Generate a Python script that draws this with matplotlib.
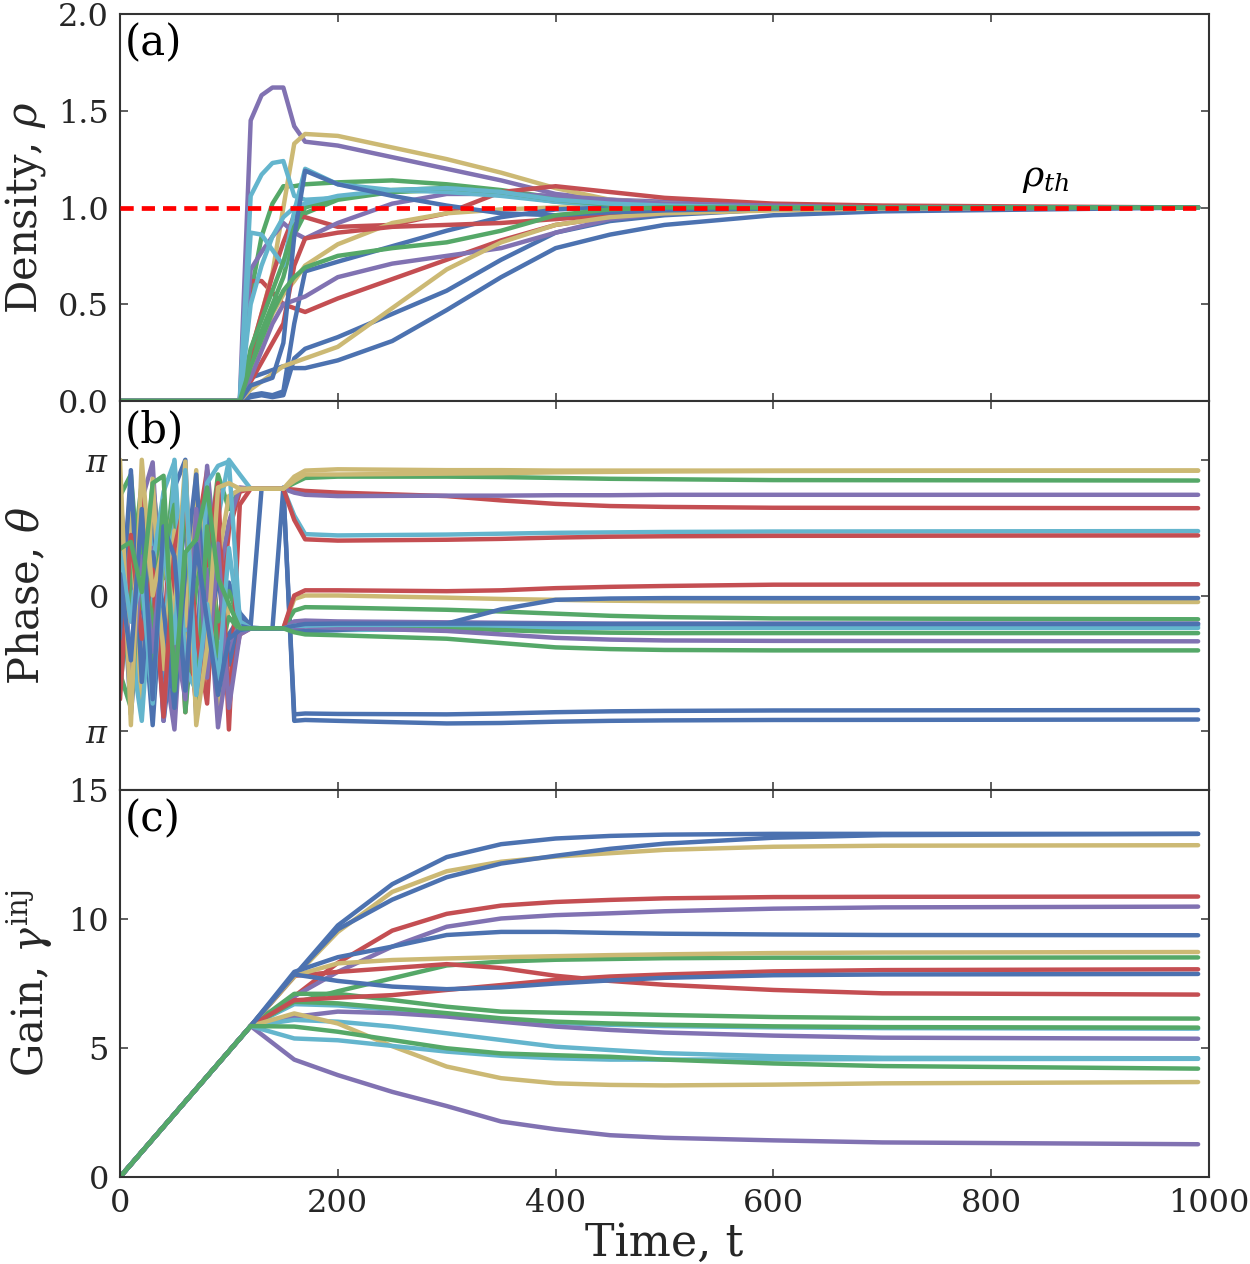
import numpy as np
import matplotlib
matplotlib.use("Agg")
import matplotlib.pyplot as plt

plt.rcParams["font.family"] = ["DejaVu Serif"]
plt.rcParams["mathtext.fontset"] = "dejavuserif"

palette = ["#4C72B0", "#55A868", "#C44E52", "#8172B2", "#CCB974", "#64B5CD"]

# ---------------- time grids ----------------
t_density = [0, 110, 120, 130, 140, 150, 160, 170, 200, 250, 300, 350, 400, 450, 500, 600, 700, 990]
t_phase = [0, 10, 20, 30, 40, 50, 60, 70, 80, 90, 100, 110,
           120, 130, 140, 150, 160, 170, 200, 300, 350, 400, 450, 500, 600, 990]
t_gain = [0, 120, 160, 200, 250, 300, 350, 400, 450, 500, 600, 700, 990]

# ---------------- (a) density, per colour group ----------------
rho_blue = [
    [0, 0, 0.12, 0.14, 0.16, 0.18, 0.17, 0.17, 0.21, 0.31, 0.47, 0.64, 0.79, 0.86, 0.91, 0.96, 0.98, 1.0],
    [0, 0, 0.02, 0.03, 0.02, 0.03, 0.22, 0.27, 0.33, 0.45, 0.57, 0.73, 0.87, 0.93, 0.96, 0.99, 1.0, 1.0],
    [0, 0, 0.03, 0.04, 0.03, 0.05, 0.40, 0.67, 0.72, 0.80, 0.88, 0.95, 0.99, 1.0, 1.0, 1.0, 1.0, 1.0],
    [0, 0, 0.08, 0.10, 0.12, 0.30, 0.85, 1.19, 1.12, 1.06, 1.01, 0.97, 0.96, 0.975, 0.985, 0.995, 1.0, 1.0],
]
rho_green = [
    [0, 0, 0.55, 0.85, 1.02, 1.11, 1.11, 1.12, 1.13, 1.14, 1.12, 1.09, 1.05, 1.02, 1.01, 1.0, 1.0, 1.0],
    [0, 0, 0.22, 0.36, 0.50, 0.64, 0.86, 0.97, 1.04, 1.08, 1.09, 1.07, 1.03, 1.01, 1.005, 1.0, 1.0, 1.0],
    [0, 0, 0.27, 0.42, 0.57, 0.72, 0.90, 1.00, 1.05, 1.09, 1.10, 1.08, 1.04, 1.015, 1.005, 1.0, 1.0, 1.0],
    [0, 0, 0.18, 0.32, 0.46, 0.57, 0.64, 0.69, 0.75, 0.79, 0.82, 0.88, 0.96, 0.99, 1.0, 1.0, 1.0, 1.0],
]
rho_red = [
    [0, 0, 0.62, 0.62, 0.56, 0.50, 0.48, 0.46, 0.53, 0.63, 0.73, 0.83, 0.91, 0.95, 0.97, 0.99, 1.0, 1.0],
    [0, 0, 0.25, 0.45, 0.65, 0.82, 0.96, 0.95, 0.90, 0.91, 0.97, 1.08, 1.11, 1.08, 1.05, 1.02, 1.01, 1.0],
    [0, 0, 0.10, 0.20, 0.30, 0.40, 0.70, 0.84, 0.87, 0.90, 0.91, 0.92, 0.94, 0.96, 0.98, 0.99, 1.0, 1.0],
]
rho_purple = [
    [0, 0, 1.45, 1.58, 1.62, 1.62, 1.42, 1.34, 1.32, 1.26, 1.20, 1.14, 1.07, 1.04, 1.03, 1.01, 1.0, 1.0],
    [0, 0, 0.68, 0.77, 0.85, 0.92, 0.87, 0.84, 0.92, 1.02, 1.07, 1.07, 1.06, 1.04, 1.02, 1.01, 1.0, 1.0],
    [0, 0, 0.12, 0.26, 0.40, 0.50, 0.52, 0.54, 0.64, 0.71, 0.75, 0.79, 0.87, 0.94, 0.97, 0.99, 1.0, 1.0],
]
rho_yellow = [
    [0, 0, 0.25, 0.45, 0.66, 1.00, 1.33, 1.38, 1.37, 1.31, 1.25, 1.18, 1.10, 1.04, 1.02, 1.005, 1.0, 1.0],
    [0, 0, 0.15, 0.30, 0.45, 0.55, 0.62, 0.70, 0.81, 0.92, 0.97, 0.99, 1.0, 1.0, 1.0, 1.0, 1.0, 1.0],
    [0, 0, 0.06, 0.10, 0.14, 0.18, 0.20, 0.22, 0.28, 0.48, 0.68, 0.82, 0.91, 0.95, 0.97, 0.985, 0.995, 1.0],
]
rho_cyan = [
    [0, 0, 1.06, 1.17, 1.23, 1.24, 1.06, 1.04, 1.05, 1.08, 1.10, 1.08, 1.04, 1.02, 1.01, 1.0, 1.0, 1.0],
    [0, 0, 0.87, 0.86, 0.78, 0.70, 0.98, 1.20, 1.12, 1.09, 1.08, 1.06, 1.03, 1.01, 1.0, 1.0, 1.0, 1.0],
    [0, 0, 0.50, 0.70, 0.85, 0.95, 1.00, 1.02, 1.06, 1.09, 1.10, 1.08, 1.04, 1.02, 1.01, 1.0, 1.0, 1.0],
]
rho_threshold = 1.0

# ---------------- (b) phase, per colour group ----------------
theta_blue = [
    [1.3, -2.75, 0.2, -3.0, 0.8, 2.5, 3.14, -2.8, -0.5, -1.9, 0.3, -0.4,
     -0.7, 2.47, 2.47, 2.47, -2.75, -2.73, -2.74, -2.75, -2.73, -2.7, -2.68, -2.67, -2.66, -2.65],
    [0.2, 1.5, -1.2, 2.4, -2.9, -0.8, 1.9, -1.5, 2.2, -1.8, -0.9, -0.5,
     -0.74, -0.76, -0.76, 2.5, -2.9, -2.88, -2.9, -2.96, -2.95, -2.92, -2.9, -2.89, -2.88, -2.87],
    [-1.0, 2.9, -2.0, 1.0, -0.3, -2.6, 0.6, 2.8, -1.2, 0.5, -1.6, -0.7,
     -0.76, -0.76, -0.76, -0.76, -0.8, -0.82, -0.8, -0.65, -0.32, -0.1, -0.07, -0.06, -0.06, -0.06],
    [0.5, -1.5, 2.0, -2.4, 1.6, 0.9, -2.2, 1.2, -0.6, -2.3, -1.0, -0.8,
     -0.76, -0.76, -0.76, -0.76, -0.7, -0.66, -0.65, -0.65, -0.65, -0.66, -0.66, -0.66, -0.66, -0.66],
]
theta_green = [
    [2.3, 2.8, -0.3, 2.6, 0.4, 2.9, -1.2, 2.5, 0.7, 2.8, 2.0, 2.45,
     2.47, 2.47, 2.47, 2.47, 2.6, 2.72, 2.75, 2.75, 2.74, 2.72, 2.7, 2.69, 2.67, 2.66],
    [-2.2, 0.4, 2.6, -1.6, 0.9, 2.1, -2.7, 0.2, 1.4, -0.6, 0.1, -0.6,
     -0.76, -0.76, -0.76, -0.76, -0.35, -0.27, -0.28, -0.33, -0.37, -0.42, -0.47, -0.5, -0.53, -0.55],
    [-1.8, -2.6, 1.2, -0.8, 2.2, -1.5, 2.4, -2.5, 1.6, -1.4, -0.5, -0.8,
     -0.76, -0.76, -0.76, -0.76, -0.72, -0.7, -0.7, -0.75, -0.8, -0.84, -0.86, -0.87, -0.87, -0.87],
    [1.08, 1.24, 0.08, 2.6, 2.77, -2.2, 1.0, 1.3, 2.5, 0.4, -0.2, -0.76,
     -0.76, -0.76, -0.76, -0.76, -0.85, -0.9, -0.92, -1.0, -1.1, -1.2, -1.24, -1.26, -1.27, -1.27],
]
theta_red = [
    [-1.6, 0.5, -2.2, 1.8, -0.9, 2.6, -2.7, 1.3, 2.9, -1.0, 1.5, 2.4,
     2.47, 2.47, 2.47, 2.47, 2.45, 2.42, 2.38, 2.3, 2.2, 2.12, 2.07, 2.05, 2.03, 2.02],
    [0.8, -2.0, 2.5, -0.4, 1.9, -1.8, 0.2, -2.6, 0.9, 2.6, -3.1, 2.1,
     2.47, 2.47, 2.47, 2.47, 1.75, 1.3, 1.27, 1.29, 1.31, 1.34, 1.36, 1.37, 1.38, 1.39],
    [-2.4, 1.4, -1.0, 0.6, -2.8, 1.1, 2.2, -0.9, -2.5, 1.7, -2.2, -0.9,
     -0.76, -0.76, -0.76, -0.76, 0.0, 0.12, 0.12, 0.1, 0.12, 0.17, 0.2, 0.22, 0.25, 0.26],
]
theta_purple = [
    [1.8, -0.6, 2.2, 3.08, -1.4, -3.1, 0.9, -1.6, 3.0, 0.3, 1.7, 2.5,
     2.47, 2.47, 2.47, 2.47, 2.38, 2.33, 2.3, 2.31, 2.31, 2.32, 2.32, 2.33, 2.33, 2.33],
    [-0.7, 2.6, -1.8, 1.1, -2.9, 0.4, 2.1, -2.6, 0.6, -3.05, -1.3, -0.6,
     -0.76, -0.76, -0.76, -0.76, -0.6, -0.58, -0.6, -0.62, -0.63, -0.64, -0.65, -0.65, -0.65, -0.65],
    [2.7, -2.2, 0.9, -1.3, 1.4, -0.9, -2.4, 2.0, -1.9, 1.2, -2.6, -0.9,
     -0.76, -0.76, -0.76, -0.76, -0.74, -0.72, -0.75, -0.82, -0.9, -0.98, -1.02, -1.04, -1.05, -1.06],
]
theta_yellow = [
    [2.1, 0.6, 1.6, -2.1, 0.8, 2.2, -1.5, 0.6, 2.4, -2.6, -0.2, -0.7,
     -0.76, -0.76, -0.76, -0.76, -0.08, 0.0, 0.0, -0.05, -0.08, -0.1, -0.12, -0.13, -0.14, -0.15],
    [-0.3, 1.9, -2.6, 2.7, -1.7, 1.5, -0.7, 2.9, -2.2, 0.8, 2.3, 2.45,
     2.47, 2.47, 2.47, 2.47, 2.65, 2.8, 2.8, 2.82, 2.83, 2.85, 2.86, 2.87, 2.88, 2.89],
    [3.14, -3.0, 3.14, 0.0, 1.2, -0.5, 3.1, -3.0, -1.2, 2.5, 2.6, 2.47,
     2.47, 2.47, 2.47, 2.47, 2.75, 2.89, 2.92, 2.9, 2.9, 2.89, 2.89, 2.89, 2.89, 2.89],
]
theta_cyan = [
    [-0.9, 0.1, -2.7, 1.6, -1.9, 3.14, -0.8, 2.1, -1.4, 1.8, 3.14, 2.8,
     2.47, 2.47, 2.47, 2.47, 1.85, 1.42, 1.39, 1.41, 1.43, 1.45, 1.46, 1.47, 1.48, 1.49],
    [0.3, -1.2, -2.9, 0.7, 2.4, 3.1, -1.7, -2.2, 2.6, 3.0, 3.1, -0.6,
     -0.76, -0.76, -0.76, -0.76, -0.72, -0.82, -0.8, -0.78, -0.77, -0.76, -0.75, -0.75, -0.75, -0.75],
    [1.0, -0.6, 0.4, -2.5, 1.3, -1.1, 2.9, -2.3, -0.2, -2.0, 1.1, -0.8,
     -0.76, -0.76, -0.76, -0.76, -0.7, -0.7, -0.68, -0.68, -0.69, -0.7, -0.7, -0.7, -0.7, -0.7],
]

# ---------------- (c) gain, per colour group ----------------
gain_blue = [
    [0, 5.85, 7.8, 9.75, 11.35, 12.4, 12.9, 13.12, 13.22, 13.27, 13.3, 13.3, 13.3],
    [0, 5.85, 7.8, 9.6, 10.75, 11.62, 12.15, 12.45, 12.72, 12.92, 13.15, 13.25, 13.3],
    [0, 5.85, 7.95, 8.52, 8.93, 9.38, 9.5, 9.5, 9.46, 9.43, 9.4, 9.38, 9.37],
    [0, 5.85, 7.85, 7.6, 7.38, 7.28, 7.35, 7.5, 7.62, 7.72, 7.82, 7.85, 7.87],
]
gain_green = [
    [0, 5.85, 6.75, 7.2, 7.7, 8.2, 8.35, 8.42, 8.45, 8.48, 8.5, 8.5, 8.51],
    [0, 5.85, 7.1, 7.1, 6.86, 6.6, 6.41, 6.37, 6.33, 6.28, 6.2, 6.16, 6.14],
    [0, 5.85, 6.79, 6.73, 6.54, 6.35, 6.15, 6.02, 5.95, 5.9, 5.84, 5.81, 5.79],
    [0, 5.85, 5.83, 5.63, 5.31, 4.99, 4.79, 4.72, 4.66, 4.55, 4.4, 4.3, 4.2],
]
gain_red = [
    [0, 5.85, 7.0, 8.3, 9.55, 10.2, 10.52, 10.66, 10.74, 10.8, 10.85, 10.86, 10.87],
    [0, 5.85, 7.8, 7.95, 8.1, 8.25, 8.1, 7.8, 7.6, 7.45, 7.25, 7.12, 7.07],
    [0, 5.85, 6.85, 6.95, 7.05, 7.25, 7.44, 7.64, 7.77, 7.85, 7.97, 8.02, 8.05],
]
gain_purple = [
    [0, 5.85, 7.0, 7.95, 8.93, 9.7, 10.02, 10.15, 10.22, 10.3, 10.4, 10.45, 10.48],
    [0, 5.85, 6.21, 6.41, 6.35, 6.22, 6.02, 5.83, 5.7, 5.6, 5.48, 5.4, 5.36],
    [0, 5.85, 4.55, 3.95, 3.3, 2.75, 2.15, 1.85, 1.62, 1.52, 1.42, 1.34, 1.27],
]
gain_yellow = [
    [0, 5.85, 7.75, 9.5, 11.05, 11.85, 12.22, 12.42, 12.55, 12.68, 12.8, 12.84, 12.86],
    [0, 5.85, 7.8, 8.28, 8.41, 8.47, 8.52, 8.56, 8.6, 8.63, 8.68, 8.7, 8.72],
    [0, 5.85, 6.34, 5.95, 5.07, 4.28, 3.83, 3.63, 3.57, 3.55, 3.58, 3.63, 3.68],
]
gain_cyan = [
    [0, 5.85, 6.7, 6.65, 6.48, 6.3, 6.1, 5.97, 5.9, 5.85, 5.8, 5.77, 5.75],
    [0, 5.85, 6.09, 6.02, 5.83, 5.57, 5.31, 5.05, 4.92, 4.8, 4.68, 4.62, 4.6],
    [0, 5.85, 5.37, 5.3, 5.08, 4.86, 4.7, 4.6, 4.55, 4.55, 4.56, 4.57, 4.58],
]

x_ticks = [0, 200, 400, 600, 800, 1000]
rho_ticks = [0.0, 0.5, 1.0, 1.5, 2.0]
rho_ticklabels = ["0.0", "0.5", "1.0", "1.5", "2.0"]
theta_ticks = [-np.pi, 0, np.pi]
theta_ticklabels = [r"$\pi$", "0", r"$\pi$"]
gain_ticks = [0, 5, 10, 15]


def ordered(groups):
    """Interleave colour groups so that oscillator i uses palette[i % 6]."""
    out = []
    for i in range(20):
        g = groups[i % 6]
        out.append(g[i // 6])
    return out


rho_all = ordered([rho_blue, rho_green, rho_red, rho_purple, rho_yellow, rho_cyan])
theta_all = ordered([theta_blue, theta_green, theta_red, theta_purple, theta_yellow, theta_cyan])
gain_all = ordered([gain_blue, gain_green, gain_red, gain_purple, gain_yellow, gain_cyan])

fig = plt.figure(figsize=(12.5, 12.64), dpi=100)
left, width = 120 / 1250, 1089 / 1250
ax_a = fig.add_axes([left, 1 - 401 / 1264, width, 387 / 1264])
ax_b = fig.add_axes([left, 1 - 790 / 1264, width, 389 / 1264])
ax_c = fig.add_axes([left, 1 - 1177 / 1264, width, 387 / 1264])

lw = 3.2
for i in range(20):
    c = palette[i % 6]
    ax_a.plot(t_density, rho_all[i], color=c, lw=lw, solid_capstyle="round", solid_joinstyle="round")
    ax_b.plot(t_phase, theta_all[i], color=c, lw=lw, solid_capstyle="round", solid_joinstyle="round")
    ax_c.plot(t_gain, gain_all[i], color=c, lw=lw, solid_capstyle="round", solid_joinstyle="round")

ax_a.plot([0, 990], [rho_threshold, rho_threshold], color="red", lw=3.4,
          linestyle=(0, (2.8, 1.7)), zorder=5)
ax_a.text(850, 1.15, r"$\rho_{th}$", fontsize=26, ha="center", va="center")

for ax in (ax_a, ax_b, ax_c):
    ax.set_xlim(0, 1000)
    ax.set_xticks(x_ticks)
    ax.tick_params(axis="both", which="major", direction="in", length=6, width=1.1,
                   top=True, right=True, labelsize=23, pad=8, color="0.2", labelcolor="0.15")
    for sp in ax.spines.values():
        sp.set_linewidth(1.5)
        sp.set_color("0.2")

ax_a.set_ylim(0, 2)
ax_a.set_yticks(rho_ticks)
ax_a.set_yticklabels(rho_ticklabels)
ax_a.set_xticklabels([])

ax_b.set_ylim(-4.5, 4.5)
ax_b.set_yticks(theta_ticks)
ax_b.set_yticklabels(theta_ticklabels)
ax_b.set_xticklabels([])

ax_c.set_ylim(0, 15)
ax_c.set_yticks(gain_ticks)
ax_c.set_xticklabels([str(v) for v in x_ticks])

ax_a.set_ylabel(r"Density, $\rho$", fontsize=30, color="0.15")
ax_b.set_ylabel(r"Phase, $\theta$", fontsize=30, color="0.15")
ax_c.set_ylabel(r"Gain, $\gamma^{\rm inj}$", fontsize=30, color="0.15")
ax_c.set_xlabel("Time, t", fontsize=32, color="0.15", labelpad=2)
ax_a.yaxis.set_label_coords(-0.066, 0.5)
ax_b.yaxis.set_label_coords(-0.066, 0.5)
ax_c.yaxis.set_label_coords(-0.060, 0.5)

for ax, lab in ((ax_a, "(a)"), (ax_b, "(b)"), (ax_c, "(c)")):
    ax.text(0.004, 0.978, lab, transform=ax.transAxes, fontsize=30,
            ha="left", va="top", color="black")

fig.savefig("out.png", dpi=100)
